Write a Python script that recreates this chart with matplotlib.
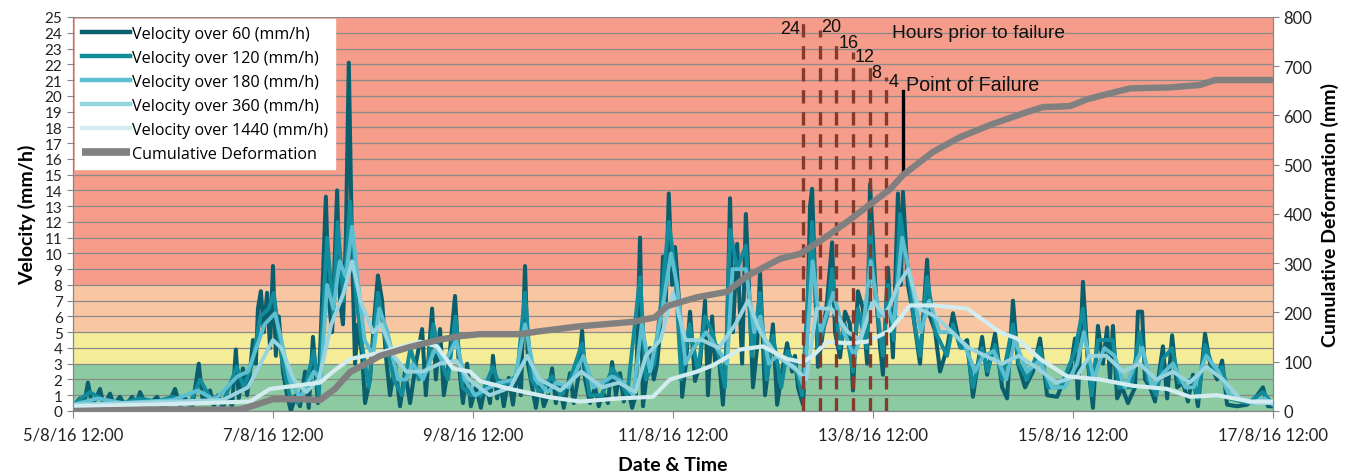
import matplotlib
matplotlib.use("Agg")
import matplotlib.pyplot as plt
import matplotlib.dates as mdates
from matplotlib.ticker import FuncFormatter, MultipleLocator
import numpy as np
from datetime import datetime

# ---------------- data (hours since 5/8/16 12:00) ----------------
start = datetime(2016, 8, 5, 12, 0)

t60 = [0, 1.7, 2.6, 3.6, 4.6, 5.5, 6.5, 7.4, 8.9, 9.8, 11.3, 12.5, 14.2, 15.1, 16.1, 17.5, 19.0, 20.2,
       21.6, 23.0, 24.5, 25.7, 26.9, 28.6, 30.2, 31.2, 32.9, 33.8, 34.8, 36.0, 37.0, 38.2, 39.1, 39.8,
       40.8, 41.8, 42.5, 43.2, 43.9, 44.4, 45.1, 45.8, 46.6, 47.3, 48.0, 48.7, 49.4, 50.4, 51.4, 52.3,
       53.5, 54.5, 55.7, 56.6, 57.6, 58.8, 59.5, 60.7, 61.4, 62.2, 63.4, 64.1, 64.8, 65.5, 66.2, 67.0,
       67.7, 68.4, 69.4, 70.1, 71.3, 72.2, 73.2, 74.2, 75.1, 76.1, 77.3, 78.5, 79.7, 80.9, 82.3, 83.8,
       84.7, 86.2, 87.1, 88.1, 89.0, 90.2, 91.7, 92.6, 93.6, 94.6, 95.5, 96.7, 97.9, 99.1, 100.1, 100.8,
       101.8, 102.5, 103.4, 104.6, 105.6, 106.6, 107.5, 108.5, 109.2, 110.2, 111.1, 112.1, 113.0, 114.0,
       115.0, 115.9, 116.9, 117.8, 119.3, 120.2, 121.2, 122.2, 122.9, 124.1, 125.3, 126.2, 127.2, 128.4,
       129.4, 130.3, 131.3, 132.2, 133.2, 134.2, 135.1, 136.1, 136.8, 137.8, 138.5, 139.4, 140.2, 140.9,
       141.6, 142.3, 143.0, 143.8, 144.5, 145.7, 146.2, 147.1, 148.1, 149.3, 150.5, 151.7, 152.4, 153.4,
       154.1, 154.8, 156.0, 157.0, 157.7, 158.4, 159.4, 160.6, 161.5, 162.5, 163.2, 164.2, 164.9, 166.1,
       167.0, 168.0, 169.0, 170.2, 171.4, 172.6, 173.3, 174.0, 175.2, 176.2, 176.9, 177.4, 178.1, 178.8,
       180.0, 181.0, 182.2, 182.9, 184.1, 185.3, 186.5, 187.2, 188.4, 189.6, 190.6, 191.3, 192.5, 193.7,
       194.4, 195.6, 196.8, 198.0, 198.7, 199.2, 200.4, 201.6, 203.3, 205.0, 205.7, 206.9, 208.1, 209.8,
       211.2, 212.9, 214.6, 216.0, 217.2, 218.2, 219.4, 221.3, 223.0, 224.2, 225.6, 226.8, 228.5, 230.4,
       232.1, 233.8, 236.2, 237.6, 239.3, 240.5, 241.2, 242.4, 243.6, 244.8, 246.0, 247.2, 248.2, 248.9,
       249.6, 250.6, 251.8, 253.2, 254.9, 255.6, 256.6, 257.3, 258.5, 259.7, 261.6, 262.6, 263.8, 265.0,
       266.4, 267.6, 268.8, 270.0, 271.7, 272.9, 274.6, 275.8, 277.0, 279.4, 281.8, 283.7, 285.6, 286.8,
       288.0]
v60 = [0.3, 0.8, 0.3, 1.8, 0.4, 0.8, 1.4, 0.3, 1.1, 0.4, 0.9, 0.3, 0.9, 0.3, 1.2, 0.4, 0.6, 0.9,
       0.2, 0.5, 1.4, 0.3, 0.8, 0.2, 3.0, 0.5, 1.3, 0.3, 1.0, 0.2, 1.0, 0.3, 3.9, 0.8,
       2.7, 1.0, 2.5, 4.5, 3.0, 6.5, 7.6, 5.0, 7.5, 4.0, 9.2, 3.5, 6.0, 2.5, 1.0, 0.0,
       1.0, 0.3, 2.5, 0.2, 4.7, 0.5, 5.0, 13.6, 7.0, 5.0, 14.0, 7.0, 5.5, 11.0, 22.1, 10.0,
       3.0, 5.5, 3.5, 0.5, 2.0, 5.5, 8.6, 7.0, 3.5, 1.0, 3.0, 0.3, 2.5, 0.5, 3.0, 5.2,
       1.0, 6.5, 2.0, 5.2, 1.0, 3.0, 7.3, 3.0, 0.5, 3.0, 0.3, 1.5, 0.2, 1.8, 0.5, 3.5,
       0.8, 1.9, 0.3, 2.1, 0.4, 2.7, 1.0, 9.2, 3.0, 1.5, 0.2, 1.8, 0.3, 1.0,
       2.7, 0.5, 1.5, 0.2, 2.4, 0.5, 2.0, 5.1, 2.0, 0.5, 1.5, 0.3, 1.2, 0.5,
       3.1, 1.0, 2.4, 0.6, 1.5, 0.2, 1.0, 11.0, 0.3, 2.5, 4.0, 2.0, 3.0, 5.0,
       9.8, 7.0, 13.8, 8.0, 10.4, 6.2, 0.9, 3.0, 6.3, 1.9, 3.0, 7.0, 1.0, 6.0,
       3.0, 4.1, 0.4, 5.0, 13.5, 5.0, 10.6, 3.0, 12.5, 6.2, 1.5, 4.0, 8.8, 1.0,
       3.0, 5.5, 0.4, 2.5, 4.3, 2.5, 3.5, 1.5, 0.4, 5.0, 13.0, 14.1, 8.2, 2.8,
       5.0, 7.0, 10.7, 5.0, 3.4, 6.3, 5.5, 1.3, 7.6, 6.5, 3.0, 14.4, 8.2, 4.1,
       2.3, 9.1, 3.4, 13.8, 8.0, 13.9, 8.0, 6.2, 3.0, 9.6, 6.0, 5.1, 2.5, 4.0,
       6.2, 4.1, 4.5, 0.9, 3.0, 4.7, 2.3, 4.9, 1.5, 0.8, 7.0, 3.0, 1.5, 2.5,
       4.6, 1.0, 0.9, 1.8, 2.5, 4.6, 0.8, 8.2, 3.0, 0.2, 5.4, 3.0, 5.3, 2.0,
       5.4, 0.8, 1.5, 0.5, 1.5, 6.3, 6.3, 2.0, 1.5, 0.6, 4.1, 0.8, 4.8, 1.5,
       1.8, 0.6, 2.3, 0.3, 4.9, 3.0, 2.0, 3.2, 0.4, 0.3, 0.4, 0.8, 1.5, 0.3,
       0.3]

t120 = [0, 4, 8, 12, 16, 20, 24, 28, 30.5, 33, 36, 39.3, 41, 43, 45, 47, 48.2, 50, 52, 54, 56, 57.8,
        59, 61, 62.5, 63.5, 65, 66.5, 68, 69.5, 71, 73.2, 75, 77, 79, 81, 83, 85, 86.5, 88.5, 90, 91.8,
        93.5, 95.5, 98, 100.8, 102.5, 104.6, 106.6, 108.5, 110, 112, 115, 117, 119.3, 122.2, 124, 127,
        129.4, 131.3, 133, 136.1, 137.5, 139.5, 141.6, 143, 144.5, 146, 148, 150, 151.7, 153.4, 155,
        156.5, 157.7, 159.4, 161.5, 163, 164.9, 166.5, 168, 170, 171.4, 173.3, 175, 177.4, 178.8, 181,
        182.2, 184, 185.3, 187.2, 188.4, 190.5, 191.3, 192.5, 194.4, 195.6, 197, 198.5, 200.4, 202,
        203.3, 205, 207, 209.8, 211.2, 213, 214.6, 216, 218.2, 219.5, 221.3, 223, 225.6, 227, 229, 232,
        234, 237, 240.5, 242.4, 244.5, 246, 248.2, 249.6, 251, 254, 256, 258, 260, 261.6, 263.8, 265.5,
        268.8, 270, 271.7, 274, 275.8, 277.5, 282, 285.6, 288]
v120 = [0.4, 1.2, 0.6, 0.5, 0.8, 0.6, 0.9, 0.4, 2.0, 0.8, 0.5, 2.8, 1.5, 3.0, 6.0, 6.5, 7.5, 3.5, 1.0, 0.5, 1.8, 3.8,
        1.0, 11.0, 6.0, 12.0, 7.0, 13.3, 7.0, 4.0, 1.5, 7.5, 4.5, 2.0, 1.0, 4.0, 2.0, 2.5, 5.5, 3.0, 2.0, 6.0,
        1.5, 1.0, 1.0, 2.8, 1.5, 1.8, 2.3, 7.5, 2.0, 1.2, 2.2, 1.0, 2.0, 4.3, 1.0, 1.0,
        2.7, 2.0, 1.0, 8.5, 2.0, 3.0, 8.0, 12.0, 9.0, 2.0, 5.5, 2.5, 6.0, 5.0, 3.5,
        1.5, 11.5, 9.0, 10.5, 3.5, 7.5, 2.0, 4.8, 1.5, 3.8, 3.0, 1.0, 12.0, 4.0, 6.0,
        9.0, 4.0, 5.5, 2.5, 6.5, 4.0, 12.0, 7.5, 3.5, 8.0, 4.5, 12.5, 9.0, 5.5,
        3.5, 8.5, 5.0, 3.5, 5.5, 4.0, 4.0, 1.5, 4.0, 2.5, 4.2, 2.0, 5.5, 3.0, 2.0, 4.0,
        1.5, 1.5, 3.8, 6.5, 1.0, 4.5, 4.5, 4.5, 1.5, 1.5, 5.0, 2.0, 1.0, 3.3, 4.0, 1.8,
        2.0, 0.8, 4.2, 2.5, 2.8, 0.8, 0.5, 1.2, 0.4]

t180 = [0, 6, 12, 18, 24, 30, 34, 39.5, 42, 44, 46, 48.5, 50, 52, 54.5, 57.8, 59.5, 61, 62.5, 64, 65.5,
        67, 68.5, 70, 72, 73.5, 75.5, 78, 80, 81.5, 84, 87, 89, 92, 94, 96.5, 100, 102.5, 106, 108.5,
        111, 114, 116, 119, 122.5, 125, 129.5, 132, 134.5, 136.5, 138.5, 141.5, 143.5, 145, 147, 149,
        152, 154.5, 157, 158.3, 161.5, 163.5, 165, 167, 169, 171.5, 174, 175.5, 177.5, 179.5, 182.5,
        185, 187.5, 189.5, 191.5, 193.5, 195.6, 197, 199, 201, 203.5, 205.5, 208, 211, 214, 216.5,
        218.5, 221, 224, 226, 229, 232, 235, 238, 241, 242.6, 245, 247.5, 250, 252.5, 255, 256.7, 259,
        262, 264, 267, 269, 272, 275, 277.5, 283, 286, 288]
v180 = [0.4, 0.8, 0.5, 0.6, 0.7, 1.3, 0.7, 2.2, 2.5, 4.0, 5.5, 6.2, 4.5, 2.0, 0.8, 2.5, 2.0, 8.0, 6.5, 9.5, 8.5,
        11.7, 8.0, 4.5, 3.5, 6.5, 5.0, 2.0, 2.0, 3.0, 2.0, 4.0, 3.0, 4.5, 2.0, 1.0, 1.5, 1.8, 2.0, 5.5,
        2.0, 1.2, 1.8, 1.5, 3.5, 1.5, 2.2, 1.8, 1.0, 5.5, 2.5, 6.5, 10.0, 8.0, 3.0, 4.0,
        5.0, 4.0, 3.0, 9.0, 9.0, 5.0, 6.0, 3.0, 3.5, 3.0, 2.5, 1.5, 9.5, 5.0, 7.5,
        5.0, 3.5, 5.0, 9.5, 6.0, 6.5, 5.5, 11.0, 8.5, 5.0, 7.0, 5.0, 5.0, 4.2, 2.5,
        3.5, 3.8, 2.0, 4.5, 2.5, 3.2, 1.5, 1.5, 3.0, 5.0, 2.0, 4.0, 3.5, 1.5, 3.0, 4.0, 1.5,
        2.5, 3.0, 1.5, 1.5, 3.5, 2.5, 1.0, 0.5, 0.8, 0.4]

t360 = [0, 12, 24, 36, 42, 45, 48, 50, 53, 56, 59, 62, 65, 67, 69, 72, 74, 77, 80, 84, 88, 92, 95, 100,
        105, 109, 112, 117, 122, 127, 131, 135, 137.5, 141, 144, 147, 151, 155, 159, 162, 165, 169, 173,
        176, 178.5, 182, 186, 189, 192, 195, 198, 200.5, 203, 207, 211, 215, 219, 223, 227, 231, 236,
        241, 244, 248, 252, 256, 260, 264, 268, 272, 276, 280, 284, 288]
v360 = [0.4, 0.5, 0.6, 0.7, 1.5, 3.0, 4.5, 4.0, 2.0, 1.2, 2.0, 5.5, 7.5, 9.5, 7.0, 5.0, 5.5, 3.5, 2.5, 2.5, 3.0, 3.2, 2.0, 1.0,
        1.5, 3.5, 2.0, 1.3, 2.5, 1.5, 1.8, 1.2, 3.5, 4.5, 7.5, 4.5, 4.5, 4.0, 5.5, 7.0, 5.0, 3.5, 2.8,
        2.0, 6.5, 6.5, 5.0, 4.5, 7.0, 6.0, 8.0, 9.0, 6.5, 6.0, 5.0, 4.0, 3.5, 3.0, 3.5, 2.8, 1.8,
        2.2, 3.5, 3.5, 2.5, 3.0, 2.0, 2.5, 1.8, 2.8, 2.0, 0.8, 0.5, 0.5]

t1440 = [0, 18.5, 42.5, 47.3, 53.3, 59.3, 62.9, 66.5, 73.7, 83.3, 87.4, 91.2, 95.3, 97.7, 104.9, 113.8,
         121.7, 131.3, 139.2, 143.3, 149.8, 153.6, 160.1, 165.6, 171.4, 175.2, 177.6, 181.0, 185.8,
         190.6, 196.1, 200.9, 206.4, 214.6, 222.5, 226.6, 232.1, 238.6, 246.5, 254.4, 262.6, 268.1,
         274.6, 282.5, 288]
v1440 = [0.3, 0.4, 0.6, 1.4, 1.6, 1.8, 2.6, 3.3, 3.7, 4.4, 4.1, 2.7, 2.5, 1.9, 1.4, 0.9,
         0.6, 0.8, 0.9, 2.0, 2.5, 2.9, 3.9, 4.1, 3.3, 3.1, 3.5, 4.4, 4.3,
         4.4, 5.1, 6.7, 6.7, 6.5, 5.0, 4.6, 3.3, 2.2, 2.0, 1.6, 1.4, 0.9,
         1.0, 0.6, 0.6]

t_cum = [0, 18.5, 40.1, 43.7, 48, 54.5, 59.3, 62.9, 66.5, 70.1, 73.7, 80.9, 88.1, 92.9, 97.7, 107.3,
         112.1, 121.7, 134.4, 139.7, 142.6, 149.8, 157.0, 161.8, 169.7, 174.5, 179.3, 185.8, 192,
         196.1, 199.2, 206.4, 212.9, 220.8, 229, 232.8, 239.3, 243.4, 248.9, 253.7, 263.3, 270.5,
         274.1, 288]
cum = [0, 3, 3, 12, 24, 24, 22, 45, 79, 95, 112, 130, 145, 152, 156, 156,
       162, 172, 181, 190, 213, 231, 242, 274, 309, 319, 345, 384, 424,
       450, 479, 526, 556, 583, 607, 617, 619, 633, 645, 655, 657, 662,
       672, 672]

failure_hour = 199.2
prior_hours = [24, 20, 16, 12, 8, 4]
prior_tops = [25.0, 24.2, 23.5, 22.8, 22.0, 21.2]
prior_label_y = [24.3, 24.4, 23.4, 22.5, 21.5, 20.9]

bands = [(0, 3, '#8ccba2'), (3, 5, '#f5ec98'), (5, 8, '#f9c6a2'), (8, 25, '#f59d8a')]

series = [
    ("Velocity over 60 (mm/h)", t60, v60, '#0b5f6c'),
    ("Velocity over 120 (mm/h)", t120, v120, '#118c9c'),
    ("Velocity over 180 (mm/h)", t180, v180, '#5bbfd1'),
    ("Velocity over 360 (mm/h)", t360, v360, '#98d4e0'),
    ("Velocity over 1440 (mm/h)", t1440, v1440, '#d3ecef'),
]
series_lw = [2.9, 2.8, 2.8, 2.8, 3.0]

# ---------------- plotting ----------------
base = mdates.date2num(start)
def tx(h):
    return base + np.asarray(h, dtype=float) / 24.0

plt.rcParams['font.family'] = ['Lato', 'DejaVu Sans']

fig = plt.figure(figsize=(13.61, 4.77), dpi=100)
ax = fig.add_axes([0.0536, 0.1363, 0.8817, 0.826])
ax2 = ax.twinx()

for lo, hi, c in bands:
    ax.axhspan(lo, hi, color=c, zorder=0, lw=0)

ax.set_axisbelow(True)
ax.yaxis.grid(True, color='#8a8a8a', lw=0.9)

handles = []
for (lab, tt, vv, c), lw in zip(series, series_lw):
    ln, = ax.plot(tx(tt), vv, color=c, lw=lw, label=lab, solid_joinstyle='round', zorder=3)
    handles.append(ln)

# prior-to-failure dashed lines
for hp, top, ly in zip(prior_hours, prior_tops, prior_label_y):
    xx = tx(failure_hour - hp)
    ax.plot([xx, xx], [0, top], color='#853a2c', lw=2.4, ls=(0, (4.0, 2.6)), zorder=4)
    if hp == 24:
        ax.text(xx - 0.025, ly, str(hp), ha='right', va='center', fontsize=13,
                family=['Liberation Sans'], color='#111111', zorder=6)
    else:
        ax.text(xx + 0.02, ly, str(hp), ha='left', va='center', fontsize=13,
                family=['Liberation Sans'], color='#111111', zorder=6)

fx = tx(failure_hour)
ax.plot([fx, fx], [15.0, 20.3], color='black', lw=2.4, zorder=6)
ax.text(tx(failure_hour - 2.6), 24.0, "Hours prior to failure", ha='left', va='center',
        fontsize=13.8, family=['Liberation Sans'], color='#111111')
ax.text(fx + 0.03, 20.7, "Point of Failure", ha='left', va='center',
        fontsize=14.2, family=['Liberation Sans'], color='#111111')

cl, = ax2.plot(tx(t_cum), cum, color='#808080', lw=4.6, label="Cumulative Deformation",
               solid_capstyle='butt', zorder=5)
handles.append(cl)

ax.set_xlim(tx(0), tx(288))
ax.set_ylim(0, 25)
ax2.set_ylim(0, 800)
ax.yaxis.set_major_locator(MultipleLocator(1))
ax2.yaxis.set_major_locator(MultipleLocator(100))
ticks = [tx(h) for h in range(0, 289, 48)]
ax.set_xticks(ticks)

def fmt(x, pos):
    d = mdates.num2date(x)
    return f"{d.day}/{d.month}/{d:%y} {d:%H:%M}"
ax.xaxis.set_major_formatter(FuncFormatter(fmt))

for a in (ax, ax2):
    for s in a.spines.values():
        s.set_color('#868686')
    a.spines['top'].set_visible(False)
ax.tick_params(axis='both', colors='#868686', labelcolor='#222222', labelsize=11, length=4)
ax.tick_params(axis='x', length=5, pad=6, labelsize=12)
ax2.tick_params(axis='y', colors='#868686', labelcolor='#222222', labelsize=12, length=4)

ax.set_ylabel("Velocity (mm/h)", fontsize=14, fontweight='bold', labelpad=6)
ax2.set_ylabel("Cumulative Deformation (mm)", fontsize=14, fontweight='bold', labelpad=6)
ax.set_xlabel("Date & Time", fontsize=14, fontweight='bold', labelpad=10)

leg = ax2.legend(handles=handles, loc='upper left', frameon=True,
                 facecolor='white', edgecolor='white', framealpha=1, fancybox=False,
                 handlelength=3.0, handletextpad=0.12, labelspacing=0.5,
                 borderaxespad=0.15, borderpad=0.4,
                 prop={'family': ['Open Sans', 'DejaVu Sans'], 'size': 11.6})
for h in leg.get_lines()[:5]:
    h.set_linewidth(3.2)
leg.get_lines()[5].set_linewidth(5.5)
leg.set_zorder(10)

fig.savefig("out.png", dpi=100)
